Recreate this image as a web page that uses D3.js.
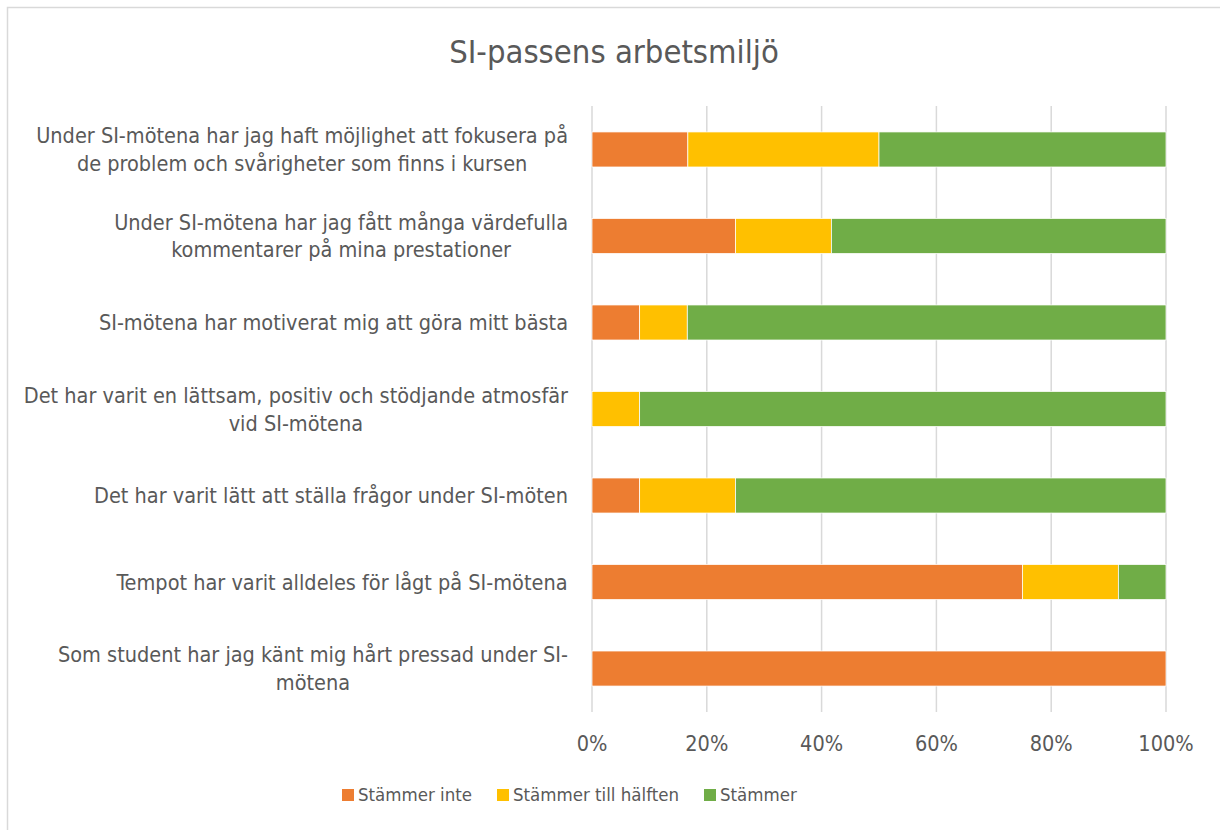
<!DOCTYPE html>
<html>
<head>
<meta charset="utf-8">
<script src="https://cdn.jsdelivr.net/npm/d3@7"></script>
<style>
  body { margin: 0; background: #fff; }
  svg text { font-family: "DejaVu Sans Condensed", "Liberation Sans Narrow", "Open Sans", sans-serif; fill: #595959; }
</style>
</head>
<body>
<svg id="chart" width="1220" height="830"></svg>
<script>
// questions, top to bottom (line breaks as in the original)
const categories = [
  "Under SI-mötena har jag haft möjlighet att fokusera på\nde problem och svårigheter som finns i kursen",
  "Under SI-mötena har jag fått många värdefulla\nkommentarer på mina prestationer",
  "SI-mötena har motiverat mig att göra mitt bästa",
  "Det har varit en lättsam, positiv och stödjande atmosfär\nvid SI-mötena",
  "Det har varit lätt att ställa frågor under SI-möten",
  "Tempot har varit alldeles för lågt på SI-mötena",
  "Som student har jag känt mig hårt pressad under SI-\nmötena"
];
const seriesNames = ["Stämmer inte", "Stämmer till hälften", "Stämmer"];
// percent per series, same order as categories
const stammerInte   = [16.7, 25.0,  8.3,  0.0,  8.3, 75.0, 100];
const tillHalften   = [33.3, 16.7,  8.3,  8.3, 16.7, 16.7,   0];
const stammer       = [50.0, 58.3, 83.4, 91.7, 75.0,  8.3,   0];
const tickValues = [0, 20, 40, 60, 80, 100];
const colors = ["#ED7D31", "#FFC000", "#70AD47"];

const svg = d3.select("#chart");

// outer chart border
svg.append("rect")
  .attr("x", 7.5).attr("y", 7.5)
  .attr("width", 1240).attr("height", 850)
  .attr("fill", "#fff")
  .attr("stroke", "#d9d9d9")
  .attr("stroke-width", 1.5);

svg.append("text")
  .attr("x", 614).attr("y", 63)
  .attr("text-anchor", "middle")
  .style("font-size", "32.5px")
  .text("SI-passens arbetsmiljö");

const table = categories.map((c, i) => ({
  cat: c,
  [seriesNames[0]]: stammerInte[i],
  [seriesNames[1]]: tillHalften[i],
  [seriesNames[2]]: stammer[i]
}));
const stacked = d3.stack().keys(seriesNames)(table);

const x = d3.scaleLinear().domain([0, 100]).range([592, 1166]);
const y = d3.scaleBand().domain(categories).range([106, 712]).paddingInner(0.595).paddingOuter(0.3);

// gridlines
svg.append("g").selectAll("line")
  .data(tickValues)
  .join("line")
  .attr("x1", d => x(d)).attr("x2", d => x(d))
  .attr("y1", 106).attr("y2", 712)
  .attr("stroke", "#d9d9d9")
  .attr("stroke-width", 1.5);

// bars
svg.append("g").selectAll("g")
  .data(stacked)
  .join("g")
  .attr("fill", (d, i) => colors[i])
  .selectAll("rect")
  .data(d => d.filter(s => s[1] - s[0] > 0))
  .join("rect")
  .attr("x", d => x(d[0]))
  .attr("width", d => x(d[1]) - x(d[0]))
  .attr("y", d => y(d.data.cat))
  .attr("height", y.bandwidth())
  .attr("stroke", "#fff")
  .attr("stroke-width", 0.75);

// category labels: block right-aligned at 568, lines centred inside the block
const labels = svg.append("g").selectAll("text")
  .data(categories)
  .join("text")
  .attr("text-anchor", "middle")
  .style("font-size", "21.5px");
labels.each(function(d) {
  const lines = d.split("\n");
  const t = d3.select(this);
  lines.forEach((ln, k) => {
    t.append("tspan")
      .attr("x", 0)
      .attr("y", (k - (lines.length - 1) / 2) * 28)
      .attr("dy", "0.35em")
      .text(ln);
  });
  const w = this.getBBox().width;
  t.attr("transform", `translate(${568 - w / 2}, ${y(d) + y.bandwidth() / 2})`);
});

// x axis tick labels
svg.append("g").selectAll("text")
  .data(tickValues)
  .join("text")
  .attr("x", d => x(d))
  .attr("y", 751)
  .attr("text-anchor", "middle")
  .style("font-size", "21.5px")
  .text(d => d + "%");

// legend
const legendX = [342, 497, 704];
const legend = svg.append("g").selectAll("g")
  .data(seriesNames)
  .join("g")
  .attr("transform", (d, i) => `translate(${legendX[i]}, 795)`);
legend.append("rect")
  .attr("x", 0).attr("y", -6)
  .attr("width", 12).attr("height", 12)
  .attr("fill", (d, i) => colors[i]);
legend.append("text")
  .attr("x", 16).attr("y", 0)
  .attr("dy", "0.35em")
  .style("font-size", "18.5px")
  .text(d => d);
</script>
</body>
</html>
